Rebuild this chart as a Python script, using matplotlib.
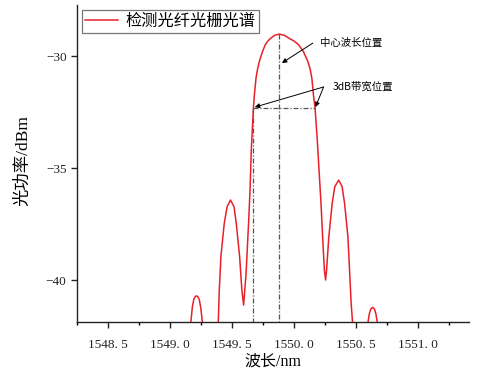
import matplotlib
matplotlib.use('Agg')
import matplotlib.pyplot as plt
import numpy as np

plt.rcParams['font.family'] = ['Liberation Serif', 'Noto Sans CJK SC', 'DejaVu Sans']
plt.rcParams['axes.unicode_minus'] = True

# spectrum (nm, dBm); points below the axis get clipped
wavelength = [1549.160, 1549.170, 1549.180, 1549.192, 1549.205, 1549.214, 1549.224, 1549.236, 1549.248,
              1549.258, 1549.268,
              1549.380, 1549.389, 1549.397, 1549.410, 1549.437, 1549.460, 1549.487, 1549.516, 1549.534,
              1549.561, 1549.579, 1549.593, 1549.613, 1549.633, 1549.645, 1549.655, 1549.664, 1549.672,
              1549.680, 1549.693, 1549.705, 1549.720, 1549.742, 1549.767, 1549.790, 1549.812, 1549.845,
              1549.879, 1549.920, 1549.958, 1550.000, 1550.037, 1550.075, 1550.111, 1550.130, 1550.143,
              1550.156, 1550.169, 1550.187, 1550.201, 1550.217, 1550.230, 1550.244, 1550.254, 1550.262,
              1550.280, 1550.307, 1550.328, 1550.360, 1550.387, 1550.407, 1550.434, 1550.447, 1550.460,
              1550.471, 1550.480,
              1550.590, 1550.598, 1550.607, 1550.618, 1550.633, 1550.648, 1550.659, 1550.668, 1550.676]
power = [-42.3, -41.75, -41.2, -40.85, -40.73, -40.71, -40.74, -40.88, -41.25,
         -41.75, -42.3,
         -43.0, -41.86, -40.45, -38.96, -37.47, -36.73, -36.43, -36.73, -37.47,
         -38.96, -40.45, -41.12, -39.70, -37.47, -35.98, -34.2, -33.2, -32.32,
         -31.73, -30.98, -30.6, -30.24, -29.85, -29.50, -29.32, -29.20, -29.07,
         -29.02, -29.07, -29.20, -29.33, -29.50, -29.80, -30.24, -30.6, -30.98,
         -31.73, -32.32, -33.75, -35.09, -36.58, -38.07, -39.55, -40.0, -39.55,
         -38.07, -36.58, -35.83, -35.54, -35.83, -36.58, -38.07, -39.55, -41.04,
         -41.86, -43.0,
         -42.2, -41.8, -41.5, -41.3, -41.22, -41.3, -41.5, -41.8, -42.2]

center_wl = 1549.879
peak_power = -29.02
bw_left = 1549.672
bw_right = 1550.169
bw_level = -32.32

xticks = [1548.5, 1549.0, 1549.5, 1550.0, 1550.5, 1551.0]
xtick_labels = ['1548. 5', '1549. 0', '1549. 5', '1550. 0', '1550. 5', '1551. 0']
yticks = [-30, -35, -40]
ytick_labels = ['\u221230', '\u221235', '\u221240']

fig = plt.figure(figsize=(4.8, 3.74), dpi=100)
ax = fig.add_axes([77 / 480, 1 - 322 / 374, (469 - 77) / 480, (322 - 5) / 374])

ax.plot(wavelength, power, color='#e8202a', lw=1.1, label='检测光纤光栅光谱')

guide = dict(color='#555555', lw=0.9, dashes=(4, 1.5, 1, 1.5))
ax.plot([center_wl, center_wl], [peak_power, -45], **guide)
ax.plot([bw_left, bw_left], [bw_level, -45], **guide)
ax.plot([bw_left, bw_right], [bw_level, bw_level], **guide)

arrow = dict(arrowstyle='-|>', color='black', lw=0.7, mutation_scale=7, shrinkA=0, shrinkB=0)
cjk = ['Noto Sans CJK SC', 'DejaVu Sans']
ax.annotate('', xy=(1549.902, -30.31), xytext=(1550.151, -29.42), arrowprops=arrow)
ax.text(1550.210, -29.42, '中心波长位置', fontsize=7.5, va='center', ha='left', family=cjk)
ax.annotate('', xy=(1549.683, -32.28), xytext=(1550.238, -31.38), arrowprops=arrow)
ax.annotate('', xy=(1550.172, -32.28), xytext=(1550.238, -31.38), arrowprops=arrow)
ax.text(1550.310, -31.38, '3dB带宽位置', fontsize=7.5, va='center', ha='left', family=cjk)

ax.set_xlim(1548.30, 1551.41)
ax.set_ylim(-41.875, -27.72)
ax.set_xticks(xticks)
ax.set_xticklabels(xtick_labels)
ax.set_xticks(list(np.array(xticks) + 0.25) + [1548.25], minor=True)
ax.set_yticks(yticks)
ax.set_yticklabels(ytick_labels)
ax.tick_params(axis='both', which='major', direction='out', length=4, width=1, labelsize=9.5, colors='#222222')
ax.tick_params(axis='x', which='minor', direction='out', length=2.5, width=1)
ax.tick_params(axis='x', pad=8)

for side in ['top', 'right']:
    ax.spines[side].set_visible(False)
for side in ['left', 'bottom']:
    ax.spines[side].set_linewidth(1.0)
    ax.spines[side].set_color('#222222')

ax.set_xlabel('波长/nm', fontsize=11.5, labelpad=2)
ax.set_ylabel('光功率/dBm', fontsize=12.5)
ax.yaxis.set_label_coords(-0.118, 0.51)

leg = ax.legend(loc='upper left', bbox_to_anchor=(0.0, 1.0), borderaxespad=0.3, frameon=True,
                fancybox=False, handlelength=2.0, borderpad=0.2, handletextpad=0.5,
                prop={'family': cjk, 'size': 11.7})
leg.get_frame().set_edgecolor('#555555')
leg.get_frame().set_linewidth(0.9)

fig.savefig('out.png', dpi=100)
